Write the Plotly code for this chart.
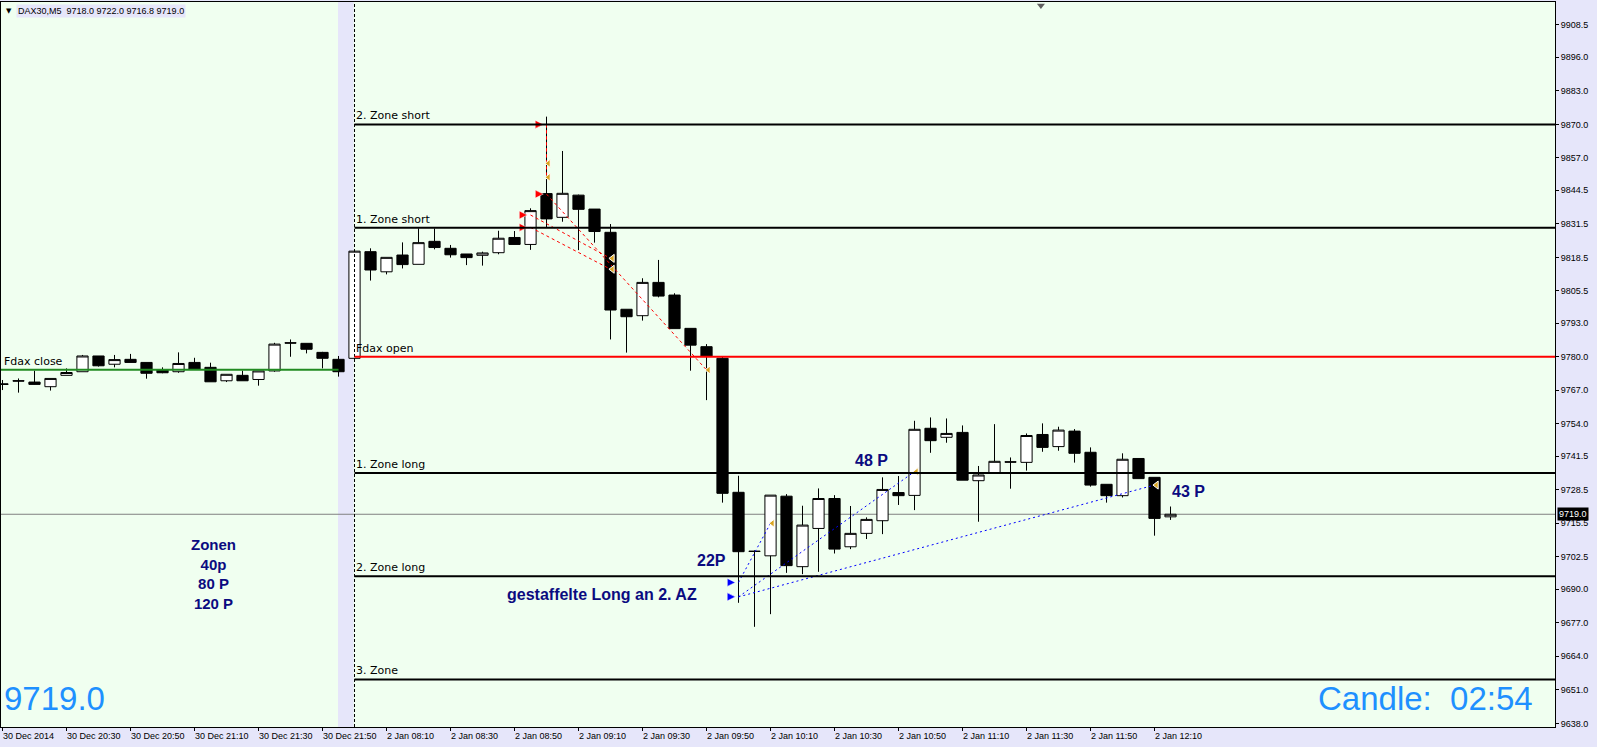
import plotly.graph_objects as go
import pandas as pd

# ---------------- data ----------------
times_dec = pd.date_range("2014-12-30 20:10", "2014-12-30 21:55", freq="5min")
times_jan = pd.date_range("2015-01-02 08:00", "2015-01-02 12:15", freq="5min")
bar_time = [t.strftime("%d %b %H:%M") for t in list(times_dec) + list(times_jan)]

open_ = [9769.5, 9770.7, 9770.2, 9768.4, 9772.8, 9774.2, 9780.3, 9777.1, 9779.0, 9777.8,
         9774.9, 9774.2, 9777.8, 9775.9, 9770.7, 9772.8, 9771.2, 9774.5, 9785.4, 9785.2,
         9781.7, 9779.0,
         9779.4, 9820.7, 9812.9, 9819.4, 9815.8, 9824.7, 9822.0, 9819.8, 9819.3, 9820.3,
         9826.2, 9823.5, 9843.2, 9834.0, 9842.6, 9837.2, 9828.2, 9798.4, 9795.9, 9808.8,
         9803.9, 9791.0, 9783.9, 9779.4, 9727.5, 9704.7, 9702.9, 9726.0, 9698.7, 9713.5,
         9725.1, 9706.4, 9711.6, 9716.5, 9727.4, 9726.3, 9752.3, 9748.8, 9750.7, 9732.0,
         9735.1, 9739.3, 9739.1, 9749.9, 9745.2, 9751.2, 9743.0, 9730.6, 9726.2, 9740.6,
         9733.3, 9718.0]
high = [9771.0, 9771.6, 9774.6, 9771.6, 9775.5, 9780.7, 9780.3, 9780.7, 9781.1, 9777.8,
        9775.9, 9781.7, 9779.6, 9777.7, 9773.2, 9774.6, 9774.5, 9785.4, 9786.7, 9785.2,
        9781.9, 9780.3,
        9821.0, 9822.0, 9818.5, 9824.3, 9829.7, 9829.7, 9823.3, 9819.8, 9820.7, 9828.8,
        9828.7, 9837.5, 9873.0, 9859.7, 9842.8, 9837.2, 9831.4, 9798.4, 9810.4, 9817.5,
        9804.6, 9791.0, 9784.9, 9780.0, 9733.9, 9705.0, 9726.4, 9726.8, 9722.3, 9729.0,
        9726.4, 9722.2, 9717.8, 9733.3, 9733.8, 9755.2, 9756.5, 9756.1, 9753.4, 9737.7,
        9753.9, 9741.0, 9750.3, 9754.2, 9752.9, 9752.0, 9744.9, 9730.6, 9742.6, 9740.6,
        9733.3, 9722.0]
low = [9767.1, 9766.1, 9769.2, 9766.9, 9772.8, 9774.2, 9776.2, 9775.9, 9777.8, 9771.5,
       9773.6, 9773.8, 9775.1, 9770.3, 9770.2, 9770.7, 9768.8, 9774.2, 9780.0, 9781.3,
       9775.5, 9772.3,
       9779.0, 9809.5, 9811.9, 9814.2, 9815.8, 9821.6, 9818.4, 9815.5, 9815.3, 9819.7,
       9823.5, 9821.4, 9830.0, 9832.3, 9821.3, 9824.2, 9786.7, 9781.6, 9794.0, 9803.0,
       9790.9, 9774.6, 9763.2, 9723.5, 9684.7, 9675.4, 9680.3, 9696.3, 9695.8, 9696.7,
       9703.8, 9705.5, 9709.4, 9711.3, 9722.6, 9720.6, 9742.8, 9746.7, 9732.2, 9716.1,
       9735.1, 9728.9, 9735.9, 9743.2, 9743.6, 9739.0, 9729.7, 9723.5, 9725.5, 9732.8,
       9710.7, 9716.8]
close = [9769.3, 9770.6, 9769.3, 9771.6, 9773.9, 9780.3, 9776.5, 9778.9, 9777.8, 9773.6,
         9773.8, 9777.4, 9775.1, 9770.3, 9773.2, 9770.7, 9774.5, 9784.9, 9785.3, 9782.9,
         9779.4, 9774.2,
         9820.9, 9813.6, 9818.5, 9815.7, 9824.2, 9822.3, 9819.5, 9818.4, 9820.2, 9825.9,
         9823.5, 9836.6, 9833.4, 9843.3, 9837.1, 9828.5, 9798.1, 9795.5, 9808.8, 9803.5,
         9790.9, 9784.5, 9780.3, 9727.1, 9704.5, 9704.6, 9726.4, 9699.1, 9714.8, 9725.1,
         9705.5, 9711.6, 9717.0, 9728.6, 9726.2, 9751.9, 9747.5, 9750.3, 9732.2, 9734.2,
         9739.5, 9739.2, 9749.5, 9744.9, 9751.6, 9742.6, 9730.3, 9726.2, 9740.3, 9732.8,
         9717.4, 9719.0]

x_tick_vals = [0, 4, 8, 12, 16, 20, 24, 28, 32, 36, 40, 44, 48, 52, 56, 60, 64, 68, 72]
x_tick_labels = ["30 Dec 2014", "30 Dec 20:30", "30 Dec 20:50", "30 Dec 21:10", "30 Dec 21:30",
                 "30 Dec 21:50", "2 Jan 08:10", "2 Jan 08:30", "2 Jan 08:50", "2 Jan 09:10",
                 "2 Jan 09:30", "2 Jan 09:50", "2 Jan 10:10", "2 Jan 10:30", "2 Jan 10:50",
                 "2 Jan 11:10", "2 Jan 11:30", "2 Jan 11:50", "2 Jan 12:10"]
y_tick_vals = [9908.5, 9896.0, 9883.0, 9870.0, 9857.0, 9844.5, 9831.5, 9818.5, 9805.5, 9793.0,
               9780.0, 9767.0, 9754.0, 9741.5, 9728.5, 9715.5, 9702.5, 9690.0, 9677.0, 9664.0,
               9651.0, 9638.0]

level_names = ["2. Zone short", "1. Zone short", "Fdax open", "1. Zone long", "2. Zone long", "3. Zone"]
level_values = [9870.0, 9830.0, 9780.0, 9735.0, 9695.0, 9655.0]
level_colors = ["black", "black", "red", "black", "black", "black"]
fdax_close = 9775.0
session_start_bar = 22
last_price = 9719.0

short_open_bar = [34, 34, 34, 33, 33]
short_open_price = [9870.0, 9870.0, 9843.0, 9834.9, 9830.1]
short_close_bar = [34, 34, 44, 38, 38]
short_close_price = [9854.9, 9849.5, 9774.9, 9818.1, 9813.9]

long_open_bar = [46, 46, 46]
long_open_price = [9692.6, 9687.0, 9687.0]
long_close_bar = [48, 57, 72]
long_close_price = [9715.5, 9735.5, 9730.3]

header_text = "DAX30,M5\u00a0\u00a09718.0 9722.0 9716.8 9719.0"
timer_text = "Candle:\u00a0\u00a002:54"

# ---------------- figure ----------------
x = list(range(len(bar_time)))
X_RANGE = [-0.094, 97.03]
Y_RANGE = [9636.6, 9917.4]
LAV = "#E6E6FA"
NAVY = "#0B0B80"
FONT = "Liberation Sans, Arial, sans-serif"

fig = go.Figure()

fig.add_trace(go.Candlestick(
    x=x, open=open_, high=high, low=low, close=close,
    increasing=dict(line=dict(color="black", width=1), fillcolor="white"),
    decreasing=dict(line=dict(color="black", width=1), fillcolor="black"),
    whiskerwidth=0, hoverinfo="skip", showlegend=False,
))

shapes = []
# previous-session shaded band
shapes.append(dict(type="rect", xref="x", yref="paper", x0=session_start_bar - 1 - 0.03,
                   x1=session_start_bar - 0.06, y0=0, y1=1, fillcolor=LAV,
                   line=dict(width=0), layer="below"))
# last price line
shapes.append(dict(type="line", xref="paper", yref="y", x0=0, x1=1, y0=last_price, y1=last_price,
                   line=dict(color="#808080", width=1), layer="below"))
# session separator
shapes.append(dict(type="line", xref="x", yref="paper", x0=session_start_bar, x1=session_start_bar,
                   y0=0, y1=1, line=dict(color="black", width=1, dash="3px,2px"), layer="above"))
# zone lines
for v, c in zip(level_values, level_colors):
    shapes.append(dict(type="line", xref="x", yref="y", x0=session_start_bar, x1=X_RANGE[1],
                       y0=v, y1=v, line=dict(color=c, width=2), layer="above"))
shapes.append(dict(type="line", xref="x", yref="y", x0=X_RANGE[0], x1=session_start_bar - 1,
                   y0=fdax_close, y1=fdax_close, line=dict(color="#228B22", width=2), layer="above"))

# trade lines
for ob, op, cb, cp in zip(short_open_bar, short_open_price, short_close_bar, short_close_price):
    fig.add_trace(go.Scatter(x=[ob, cb], y=[op, cp], mode="lines",
                             line=dict(color="red", width=1, dash="3px,3px"),
                             hoverinfo="skip", showlegend=False))
for ob, op, cb, cp in zip(long_open_bar, long_open_price, long_close_bar, long_close_price):
    fig.add_trace(go.Scatter(x=[ob, cb], y=[op, cp], mode="lines",
                             line=dict(color="blue", width=1, dash="2px,3px"),
                             hoverinfo="skip", showlegend=False))
# entry arrows
fig.add_trace(go.Scatter(x=[b - 0.2 for b in short_open_bar], y=short_open_price, mode="markers",
                         marker=dict(symbol="arrow-right", size=8, color="red",
                                     line=dict(color="white", width=0.5)),
                         hoverinfo="skip", showlegend=False))
fig.add_trace(go.Scatter(x=[b - 0.2 for b in long_open_bar], y=long_open_price, mode="markers",
                         marker=dict(symbol="arrow-right", size=8, color="blue",
                                     line=dict(color="white", width=0.5)),
                         hoverinfo="skip", showlegend=False))
# exit triangles
fig.add_trace(go.Scatter(x=[b + 0.12 for b in short_close_bar + long_close_bar],
                         y=short_close_price + long_close_price, mode="markers",
                         marker=dict(symbol="triangle-left", size=7, color="#DAA520",
                                     line=dict(color="white", width=1)),
                         hoverinfo="skip", showlegend=False))
# chart shift marker
fig.add_trace(go.Scatter(x=[64.9], y=[9916.0], mode="markers",
                         marker=dict(symbol="triangle-down", size=7, color="#606060"),
                         hoverinfo="skip", showlegend=False, cliponaxis=False))

ann = []
# level labels
for n, v in zip(level_names, level_values):
    ann.append(dict(x=session_start_bar, y=v, xref="x", yref="y", text=n, showarrow=False,
                    xanchor="left", yanchor="bottom", xshift=-1, yshift=0,
                    font=dict(family="DejaVu Sans", size=11, color="black")))
ann.append(dict(x=X_RANGE[0], y=fdax_close, xref="x", yref="y", text="Fdax close", showarrow=False,
                xanchor="left", yanchor="bottom", xshift=1,
                font=dict(family="DejaVu Sans", size=11, color="black")))
# x tick labels (left aligned as in MT4)
for tv, tl in zip(x_tick_vals, x_tick_labels):
    ann.append(dict(x=tv, y=0, xref="x", yref="paper", text=tl, showarrow=False,
                    xanchor="left", yanchor="top", xshift=-2, yshift=-2,
                    font=dict(family=FONT, size=9, color="black")))
# header
ann.append(dict(x=0, y=1, xref="paper", yref="paper", text="\u25bc", showarrow=False,
                xanchor="left", yanchor="top", xshift=3, yshift=-3,
                font=dict(family="DejaVu Sans", size=7, color="black")))
ann.append(dict(x=0, y=1, xref="paper", yref="paper", text=header_text, showarrow=False,
                xanchor="left", yanchor="top", xshift=15, yshift=-2, bgcolor=LAV, borderpad=1,
                font=dict(family=FONT, size=9, color="black")))
# current price box on axis
ann.append(dict(x=1, y=last_price, xref="paper", yref="y", text=f"{last_price:.1f}", showarrow=False,
                xanchor="left", yanchor="middle", xshift=2, bgcolor="black", borderpad=1,
                font=dict(family=FONT, size=9, color="white")))
# notes
ann.append(dict(x=13.2, y=9696.0, xref="x", yref="y", text="Zonen<br>40p<br>80 P<br>120 P",
                showarrow=False, xanchor="center", yanchor="middle", align="center",
                font=dict(family=FONT, size=15, color=NAVY, weight="bold")))
ann.append(dict(x=54.3, y=9739.8, xref="x", yref="y", text="48 P", showarrow=False,
                font=dict(family=FONT, size=16, color=NAVY, weight="bold")))
ann.append(dict(x=44.3, y=9701.0, xref="x", yref="y", text="22P", showarrow=False,
                font=dict(family=FONT, size=16, color=NAVY, weight="bold")))
ann.append(dict(x=74.1, y=9727.8, xref="x", yref="y", text="43 P", showarrow=False,
                font=dict(family=FONT, size=16, color=NAVY, weight="bold")))
ann.append(dict(x=37.45, y=9687.8, xref="x", yref="y", text="gestaffelte Long an 2. AZ",
                showarrow=False, font=dict(family=FONT, size=16, color=NAVY, weight="bold")))
ann.append(dict(x=0, y=0, xref="paper", yref="paper", text=f"{last_price:.1f}", showarrow=False,
                xanchor="left", yanchor="bottom", xshift=1, yshift=8,
                font=dict(family=FONT, size=33, color="#1E90FF")))
ann.append(dict(x=1, y=0, xref="paper", yref="paper", text=timer_text, showarrow=False,
                xanchor="right", yanchor="bottom", xshift=-20, yshift=8,
                font=dict(family=FONT, size=33, color="#1E90FF")))

fig.update_layout(
    width=1597, height=747,
    margin=dict(l=1, r=42, t=2, b=20, pad=0),
    paper_bgcolor=LAV, plot_bgcolor="#F0FFF0",
    showlegend=False, boxgap=0.3, boxgroupgap=0,
    shapes=shapes, annotations=ann,
    font=dict(family=FONT, size=9, color="black"),
)
fig.update_xaxes(range=X_RANGE, rangeslider=dict(visible=False), showgrid=False, zeroline=False,
                 showline=True, mirror=True, linecolor="black", linewidth=1,
                 tickmode="array", tickvals=x_tick_vals, ticks="outside", ticklen=3,
                 tickcolor="black", showticklabels=False)
fig.update_yaxes(range=Y_RANGE, side="right", showgrid=False, zeroline=False,
                 showline=True, mirror=True, linecolor="black", linewidth=1,
                 tickmode="array", tickvals=y_tick_vals,
                 ticktext=[f"{v:.1f}" for v in y_tick_vals], ticks="outside", ticklen=3,
                 tickcolor="black", tickfont=dict(family=FONT, size=9, color="black"))

fig.write_html("out.html", config={"displayModeBar": False},
               post_script="document.body.style.margin='0';document.body.style.overflow='hidden';")
